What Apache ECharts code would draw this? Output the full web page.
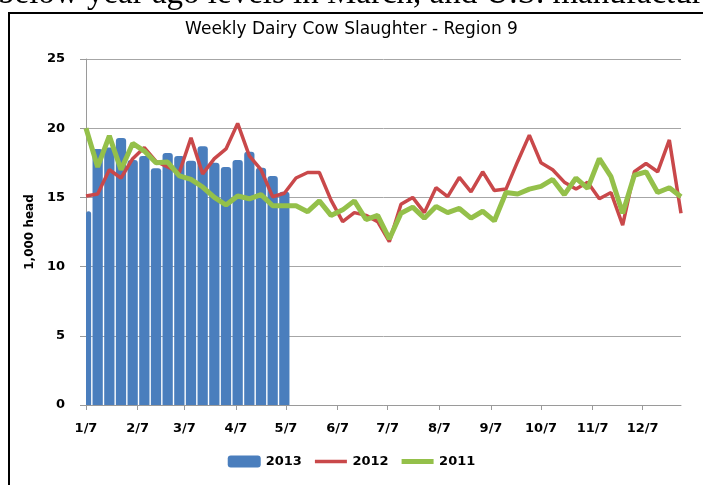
<!DOCTYPE html>
<html>
<head>
<meta charset="utf-8">
<title>Weekly Dairy Cow Slaughter</title>
<style>
    body { margin: 0; background-color: #fff; }
    #main { width: 703px; height: 485px; }
</style>
</head>
<body>
<div id="main"></div>
<script src="https://cdn.jsdelivr.net/npm/echarts@6/dist/echarts.min.js"></script>
<script type="text/javascript">
// month tick labels on the x axis (2013 calendar)
var monthLabels = ['1/7', '2/7', '3/7', '4/7', '5/7', '6/7', '7/7', '8/7', '9/7', '10/7', '11/7', '12/7'];
var seriesNames = ['2013', '2012', '2011'];

// weekly slaughter, 1,000 head, first week = 1/7
var cows2013 = [14.0, 18.5, 18.6, 19.3, 17.7, 18.0, 17.1, 18.2, 18.0, 17.65, 18.7, 17.5, 17.2, 17.7, 18.3, 17.15, 16.55, 15.4];

var cows2012 = [15.1, 15.25, 17.0, 16.4, 17.8, 18.6, 17.6, 17.2, 16.8, 19.3,
    16.7, 17.8, 18.5, 20.35, 18.0, 17.0, 15.05, 15.3, 16.4, 16.8,
    16.8, 14.8, 13.25, 13.9, 13.7, 13.25, 11.8, 14.5, 15.0, 13.9,
    15.7, 15.05, 16.45, 15.4, 16.85, 15.5, 15.6, 17.6, 19.5, 17.5,
    17.0, 16.1, 15.6, 16.1, 14.9, 15.35, 13.0, 16.85, 17.45, 16.85,
    19.15, 13.85];

var cows2011 = [20.0, 17.2, 19.45, 17.0, 18.9, 18.35, 17.5, 17.55, 16.55, 16.3,
    15.75, 15.0, 14.45, 15.1, 14.9, 15.2, 14.4, 14.4, 14.4, 13.97,
    14.75, 13.7, 14.1, 14.75, 13.4, 13.7, 12.0, 13.85, 14.3, 13.5,
    14.35, 13.9, 14.2, 13.5, 14.0, 13.3, 15.35, 15.25, 15.6, 15.8,
    16.3, 15.2, 16.4, 15.65, 17.8, 16.5, 13.85, 16.6, 16.85, 15.35,
    15.7, 15.05];

var myChart;

// days after 1/7 for a "m/d" label
function dayOf(label) {
    var p = label.split('/');
    return (Date.UTC(2013, +p[0] - 1, +p[1]) - Date.UTC(2013, 0, 7)) / 86400000;
}

// weekly points: week i sits i*7 days after 1/7
function weekly(values) {
    return values.map(function (v, i) { return [i * 7, v]; });
}

var monthDays = monthLabels.map(dayOf);
var labelByDay = {};
monthLabels.forEach(function (l) { labelByDay[dayOf(l)] = l; });

// week-wide column, cut at the plot edge like the first 1/7 bar
function renderWeekBar(params, api) {
    var x = api.value(0);
    var top = api.coord([x, api.value(1)]);
    var base = api.coord([x, 0]);
    var w = api.size([7, 0])[0] - 1.4;
    var cs = params.coordSys;
    var rect = echarts.graphic.clipRectByRect(
        { x: top[0] - w / 2, y: top[1], width: w, height: base[1] - top[1] },
        { x: cs.x, y: cs.y, width: cs.width, height: cs.height });
    if (!rect) return;
    return {
        type: 'rect',
        shape: { x: rect.x, y: rect.y, width: rect.width, height: rect.height, r: [3, 3, 0, 0] },
        style: { fill: api.visual('color') }
    };
}

function getOption() {
    var boldFont = { fontFamily: 'DejaVu Sans', fontWeight: 'bold', fontSize: 13, color: '#000' };
    return {
        animation: false,
        backgroundColor: '#fff',
        title: {
            text: 'Weekly Dairy Cow Slaughter - Region 9',
            left: 'center',
            top: 16,
            textStyle: { fontFamily: 'DejaVu Sans', fontWeight: 'normal', fontSize: 17, color: '#000' }
        },
        graphic: [{
            type: 'rect',
            shape: { x: 9, y: 13, width: 720, height: 500 },
            style: { fill: 'none', stroke: '#000', lineWidth: 2 },
            silent: true
        }, {
            type: 'text',
            left: -2,
            top: -22,
            style: {
                text: 'below year ago levels in March, and U.S. manufactured',
                font: '33px "Liberation Serif"',
                fill: '#000'
            },
            silent: true
        }],
        legend: {
            bottom: 12,
            left: 'center',
            itemWidth: 33,
            itemHeight: 12,
            itemGap: 13,
            textStyle: boldFont,
            data: [
                { name: seriesNames[0], icon: 'roundRect' },
                { name: seriesNames[1], icon: 'path://M0,0L0,0M0,4.25h32v3.5h-32zM32,12L32,12', itemStyle: { borderWidth: 0 } },
                { name: seriesNames[2], icon: 'path://M0,0L0,0M0,3.5h32v5h-32zM32,12L32,12', itemStyle: { borderWidth: 0 } }
            ]
        },
        grid: { left: 86, right: 22, top: 59, bottom: 80 },
        xAxis: {
            type: 'value',
            min: 0,
            max: 357,
            axisLine: { show: true, lineStyle: { color: '#9a9a9a', width: 1 } },
            axisTick: { show: true, length: 5, customValues: monthDays, lineStyle: { color: '#9a9a9a' } },
            axisLabel: {
                customValues: monthDays,
                margin: 17,
                fontFamily: 'DejaVu Sans', fontWeight: 'bold', fontSize: 13, color: '#000',
                formatter: function (v) { return labelByDay[v] || ''; }
            },
            splitLine: { show: false }
        },
        yAxis: {
            type: 'value',
            name: '1,000 head',
            nameLocation: 'middle',
            nameGap: 46,
            nameTextStyle: { fontFamily: 'DejaVu Sans', fontWeight: 'bold', fontSize: 12, color: '#000' },
            min: 0,
            max: 25,
            interval: 5,
            axisLine: { show: true, lineStyle: { color: '#9a9a9a', width: 1 } },
            axisTick: { show: true, length: 6, lineStyle: { color: '#9a9a9a' } },
            axisLabel: { margin: 21, fontFamily: 'DejaVu Sans', fontWeight: 'bold', fontSize: 13, color: '#000' },
            splitLine: { show: true, lineStyle: { color: '#a6a6a6', width: 1 } }
        },
        series: [{
            name: seriesNames[0],
            type: 'custom',
            renderItem: renderWeekBar,
            encode: { x: 0, y: 1 },
            itemStyle: { color: '#4a7ebd' },
            data: weekly(cows2013)
        }, {
            name: seriesNames[1],
            type: 'line',
            symbol: 'none',
            lineStyle: { color: '#c9484a', width: 3.5 },
            itemStyle: { color: '#c9484a' },
            data: weekly(cows2012)
        }, {
            name: seriesNames[2],
            type: 'line',
            symbol: 'none',
            lineStyle: { color: '#94c04a', width: 5 },
            itemStyle: { color: '#94c04a' },
            data: weekly(cows2011)
        }]
    };
}

myChart = echarts.init(document.getElementById('main'));
myChart.setOption(getOption());
</script>
</body>
</html>
